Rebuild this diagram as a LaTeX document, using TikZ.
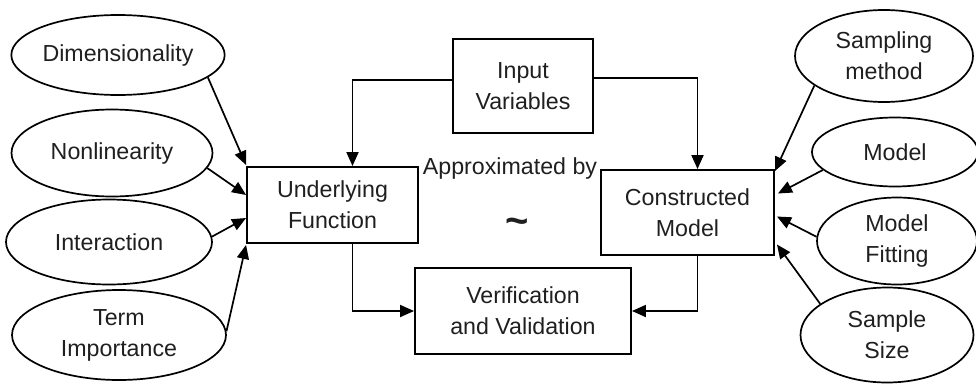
\documentclass[tikz,border=0pt]{standalone}
\usepackage{fontspec}
\setmainfont{Liberation Sans}
\usetikzlibrary{shapes.geometric,arrows.meta}
\begin{document}
\begin{tikzpicture}[x=1pt,y=-1pt,
  font=\fontsize{23.2}{31}\selectfont,
  every node/.style={align=center, text=black!88},
  oval/.style={draw, ellipse, inner sep=0pt, line width=1.7pt},
  blk/.style={draw, rectangle, inner sep=0pt, line width=1.9pt},
  arr/.style={-{Triangle[length=14pt,width=12pt]}, line width=1.7pt},
  wire/.style={line width=1.9pt, -{Triangle[length=14pt,width=12pt]}}
]
\useasboundingbox (0,0) rectangle (976,383);

% factors of the underlying function
\node[oval, minimum width=211pt, minimum height=80pt] (dim) at (118,55) {Dimensionality};
\node[oval, minimum width=201pt, minimum height=87pt] (nonlin) at (112,153) {Nonlinearity};
\node[oval, minimum width=206pt, minimum height=85pt] (inter) at (109,242) {Interaction};
\node[oval, minimum width=214pt, minimum height=90pt] (term) at (119,335) {Term\\Importance};

% factors of the constructed model
\node[oval, minimum width=178pt, minimum height=92pt] (samp) at (884,56) {Sampling\\method};
\node[oval, minimum width=166pt, minimum height=69pt] (model) at (895,152) {Model};
\node[oval, minimum width=160pt, minimum height=87pt] (fit) at (897,241) {Model\\Fitting};
\node[oval, minimum width=173pt, minimum height=95pt] (size) at (887,335) {Sample\\Size};

% main blocks
\node[blk, minimum width=140pt, minimum height=94pt] (iv) at (523,86) {Input\\Variables};
\node[blk, minimum width=171pt, minimum height=76pt] (uf) at (332.5,205) {Underlying\\Function};
\node[blk, minimum width=173pt, minimum height=85pt] (cm) at (687.5,212.5) {Constructed\\Model};
\node[blk, minimum width=216pt, minimum height=86pt] (vv) at (523,311) {Verification\\and Validation};

% relation between function and model
\node (approx) at (510,168) {Approximated by};
\node[font=\fontsize{40}{40}\selectfont\bfseries] (tilde) at (517,226) {\textasciitilde};

% input variables feed both sides
\draw[wire] ([yshift=6pt]iv.west) -| ([xshift=20pt]uf.north);
\draw[wire] ([yshift=8pt]iv.east) -| ([xshift=10pt]cm.north);

% both sides go to verification
\draw[wire] ([xshift=20pt]uf.south) |- (vv.west);
\draw[wire] ([xshift=10pt]cm.south) |- (vv.east);

% left factors
\draw[arr] (dim.-14) -- ([yshift=1pt]uf.north west);
\draw[arr] (nonlin.-9) -- ([yshift=10pt]uf.west);
\draw[arr] (inter.3) -- ([yshift=-13pt]uf.west);
\draw[arr] (term.2) -- ([yshift=-1pt]uf.south west);

% right factors
\draw[arr] (samp.203) -- ([yshift=-2pt]cm.north east);
\draw[arr] (model.194) -- ([xshift=3pt,yshift=19pt]cm.east);
\draw[arr] (fit.177) -- ([xshift=2pt,yshift=-4pt]cm.east);
\draw[arr] (size.155) -- ([xshift=2pt,yshift=-32pt]cm.east);
\end{tikzpicture}
\end{document}
